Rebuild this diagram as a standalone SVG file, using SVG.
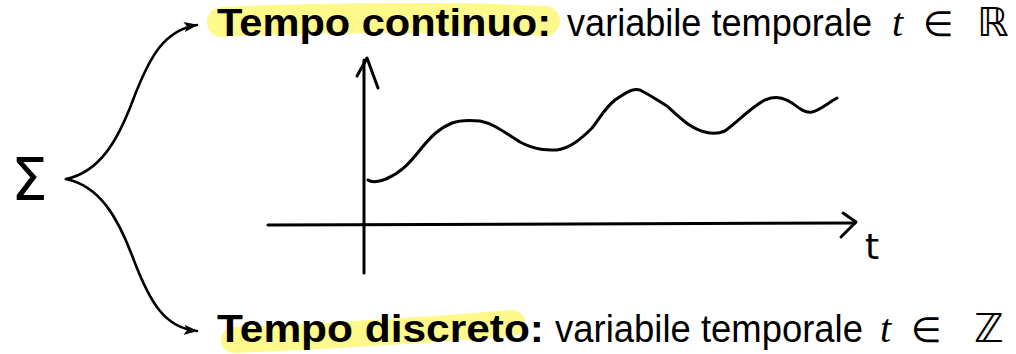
<svg xmlns="http://www.w3.org/2000/svg" width="1016" height="354" viewBox="0 0 1016 354">
<defs>
<style>
.hl{fill:none;stroke:#fff98c;stroke-linecap:round;stroke-linejoin:round}
.conn{fill:none;stroke:#000;stroke-width:2.6;stroke-linecap:round}
.hand{fill:none;stroke:#000;stroke-width:3;stroke-linecap:round;stroke-linejoin:round}
.b{font-family:"Liberation Sans",Arial,sans-serif;font-weight:bold;font-size:38px;fill:#000}
.r{font-family:"Liberation Sans",Arial,sans-serif;font-size:38px;fill:#000}
.mi{font-family:"Liberation Serif","Times New Roman",serif;font-style:italic;font-size:40px}
.sym{font-family:"DejaVu Sans",sans-serif;font-size:35px}
.bb{font-family:"DejaVu Sans",sans-serif;font-size:40px}
</style>
<marker id="ah" viewBox="0 0 14 10" refX="13" refY="5" markerWidth="14" markerHeight="10" markerUnits="userSpaceOnUse" orient="auto">
<path d="M0,0 L14,5 L0,10 L3,5 Z" fill="#000"/>
</marker>
</defs>
<rect width="1016" height="354" fill="#fff"/>
<g id="sigma">
<text x="11" y="200" font-family="DejaVu Sans, sans-serif" font-size="58" fill="#000">Σ</text>
</g>
<g id="connectors">
<path class="conn" d="M66,179 C100,172 118,140 133,100 C150,55 165,30 197,25" marker-end="url(#ah)"/>
<path class="conn" d="M66,179 C100,186 118,218 133,258 C150,303 165,328 197,331" marker-end="url(#ah)"/>
</g>
<g id="continuo">
<path class="hl" stroke-width="30" d="M222,22 C300,18 450,16 545,21"/>
<text class="b" x="217" y="36" textLength="334" lengthAdjust="spacingAndGlyphs">Tempo continuo:</text>
<text class="r" y="36"><tspan x="567" textLength="305" lengthAdjust="spacingAndGlyphs">variabile temporale</tspan><tspan class="mi" x="892">t</tspan><tspan class="sym" x="923">∈</tspan><tspan class="bb" x="977">ℝ</tspan></text>
</g>
<g id="discreto">
<path class="hl" stroke-width="26" d="M234,340 C330,336 430,330 512,323"/>
<text class="b" x="217" y="342" textLength="327" lengthAdjust="spacingAndGlyphs">Tempo discreto:</text>
<text class="r" y="342"><tspan x="555" textLength="308" lengthAdjust="spacingAndGlyphs">variabile temporale</tspan><tspan class="mi" x="880">t</tspan><tspan class="sym" x="911">∈</tspan><tspan class="bb" x="974">ℤ</tspan></text>
</g>
<g id="plot">
<path class="hand" d="M364,273 L364,60"/>
<path class="hand" d="M357,76 L367,58 L378,88"/>
<path class="hand" d="M268,225 L855,223"/>
<path class="hand" d="M843,213 L856,222 L841,237"/>
<path class="hand" d="M368,180 C372,183 378,182 386,179 C400,173 408,165 420,150 C432,135 440,128 452,123 C460,120 470,120 480,121 C495,124 505,133 520,142 C535,150 545,150 557,150 C570,148 580,140 592,128 C602,115 605,108 615,100 C625,93 632,88 640,90 C650,95 657,100 667,106 C680,118 690,128 705,132 C712,134 718,134 725,131 C740,120 750,108 765,100 C775,96 782,97 792,103 C800,109 805,113 812,112 C820,110 828,103 837,98"/>
<text x="865" y="259" font-family="DejaVu Sans, sans-serif" font-size="36" fill="#000">t</text>
</g>
</svg>
